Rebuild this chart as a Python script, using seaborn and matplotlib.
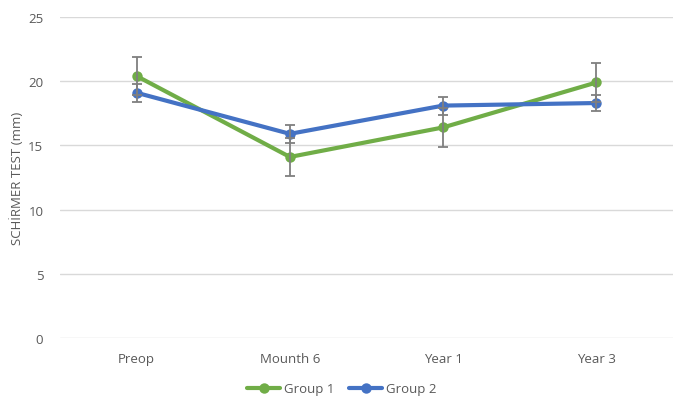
import matplotlib
matplotlib.use("Agg")
import matplotlib.pyplot as plt
import seaborn as sns
import pandas as pd

# Schirmer test results per visit
visits = ["Preop", "Mounth 6", "Year 1", "Year 3"]
group1_mean = [20.4, 14.1, 16.4, 19.9]
group1_err = [1.5, 1.5, 1.5, 1.5]
group2_mean = [19.1, 15.9, 18.1, 18.3]
group2_err = [0.7, 0.7, 0.7, 0.65]
series_names = ["Group 1", "Group 2"]
y_ticks = [0, 5, 10, 15, 20, 25]

GREEN = "#70AD47"
BLUE = "#4472C4"
TEXT = "#595959"

sns.set_theme(style="white")
plt.rcParams["font.family"] = ["Open Sans", "DejaVu Sans"]

df = pd.DataFrame({
    "pos": list(range(len(visits))) * 2,
    "value": group1_mean + group2_mean,
    "err": group1_err + group2_err,
    "series": [series_names[0]] * len(visits) + [series_names[1]] * len(visits),
})

fig = plt.figure(figsize=(6.75, 4.02), dpi=100)
ax = fig.add_axes([60 / 675, 1 - 339 / 402, 613 / 675, 321 / 402])

sns.lineplot(data=df, x="pos", y="value", hue="series",
             palette={series_names[0]: GREEN, series_names[1]: BLUE},
             marker="o", markersize=7.5, markeredgewidth=0, linewidth=3,
             ax=ax, legend=False, zorder=3)

for name in series_names:
    sub = df[df["series"] == name]
    ax.errorbar(sub["pos"], sub["value"], yerr=sub["err"], fmt="none",
                ecolor="#7F7F7F", elinewidth=1.3, capsize=3.5, capthick=1.3,
                zorder=4)

ax.set_xlim(-0.5, len(visits) - 0.5)
ax.set_ylim(0, 25)
ax.set_xticks(range(len(visits)))
ax.set_xticklabels(visits)
ax.set_yticks(y_ticks)
ax.yaxis.grid(True, color="#D9D9D9", linewidth=1)
ax.set_axisbelow(True)
for s in ax.spines.values():
    s.set_visible(False)
ax.tick_params(axis="both", length=0, colors=TEXT, labelsize=9.5)
ax.tick_params(axis="x", pad=10)
ax.tick_params(axis="y", pad=12)
ax.set_xlabel("")
ax.set_ylabel("SCHİRMER TEST (mm)", color=TEXT, fontsize=9.5, labelpad=3)

handles = [plt.Line2D([], [], color=c, linewidth=3, marker="o", markersize=7.5,
                      markeredgewidth=0) for c in (GREEN, BLUE)]
leg = fig.legend(handles, series_names, loc="center", bbox_to_anchor=(342 / 675, 1 - 390 / 402),
                 ncol=2, frameon=False, fontsize=9.5, handlelength=2.5,
                 handletextpad=0.3, columnspacing=1.1)
for t in leg.get_texts():
    t.set_color(TEXT)

fig.savefig("out.png", dpi=100)
